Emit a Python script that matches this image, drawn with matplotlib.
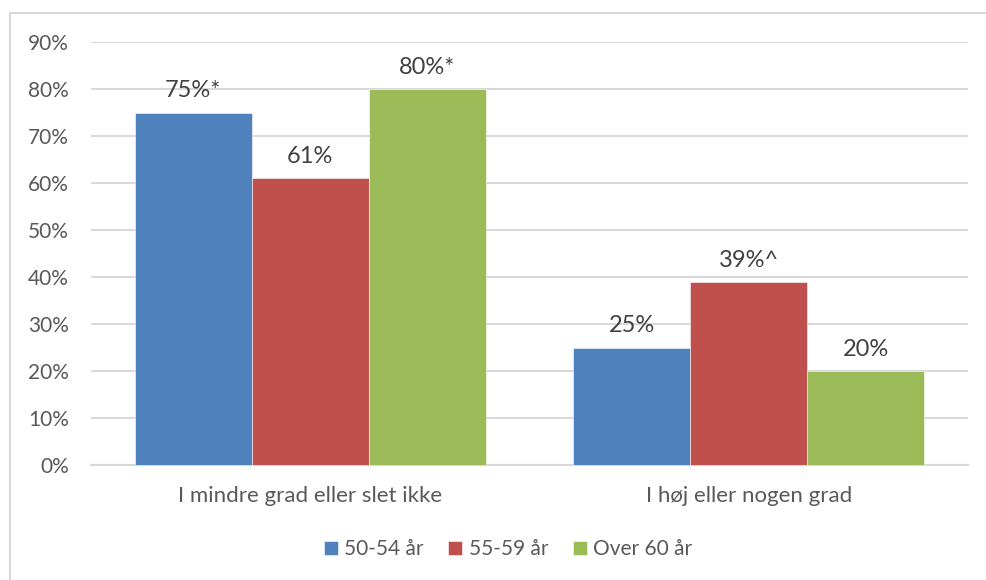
import matplotlib
matplotlib.use("Agg")
import matplotlib.pyplot as plt
from matplotlib.patches import Rectangle
import numpy as np

categories = ["I mindre grad eller slet ikke", "I høj eller nogen grad"]
series_names = ["50-54 år", "55-59 år", "Over 60 år"]
values = {
    "50-54 år": [75, 25],
    "55-59 år": [61, 39],
    "Over 60 år": [80, 20],
}
labels = {
    "50-54 år": ["75%*", "25%"],
    "55-59 år": ["61%", "39%^"],
    "Over 60 år": ["80%*", "20%"],
}
colors = ["#4F81BD", "#C0504D", "#9BBB59"]
yticks = [0, 10, 20, 30, 40, 50, 60, 70, 80, 90]

plt.rcParams['font.family'] = ['Lato', 'DejaVu Sans']

fig = plt.figure(figsize=(9.86, 5.8), dpi=100)
# outer chart border (only left and top visible)
fig.patches.append(Rectangle((10/986, -0.1), 1.2, 1 - 13/580 + 0.1,
                             transform=fig.transFigure, fill=False,
                             edgecolor="#d9d9d9", linewidth=1.5))

ax = fig.add_axes([91/986, 1 - 465/580, (968 - 91)/986, (465 - 42)/580])
x = np.arange(len(categories))
w = 0.8 / 3
for j, name in enumerate(series_names):
    pos = x + (j - 1) * w
    bars = ax.bar(pos, values[name], width=w, color=colors[j], label=name,
                  edgecolor="white", linewidth=0.4, zorder=3)
    for b, lab in zip(bars, labels[name]):
        ax.annotate(lab, (b.get_x() + b.get_width() / 2, b.get_height()),
                    xytext=(0, 8), textcoords="offset points",
                    ha="center", va="bottom", fontsize=17, color="#404040")

ax.set_xlim(-0.5, 1.5)
ax.set_ylim(0, 90)
ax.set_yticks(yticks)
ax.set_yticklabels([f"{t}%" for t in yticks])
ax.set_xticks(x)
ax.set_xticklabels(categories)
ax.tick_params(axis="y", length=0, pad=16, labelsize=15, labelcolor="#595959")
ax.tick_params(axis="x", length=0, pad=15, labelsize=16, labelcolor="#595959")
ax.yaxis.grid(True, color="#d9d9d9", linewidth=1.5, zorder=0)
ax.set_axisbelow(True)
for s in ["top", "right", "left"]:
    ax.spines[s].set_visible(False)
ax.spines["bottom"].set_color("#d9d9d9")
ax.spines["bottom"].set_linewidth(1.5)

fig.legend(loc="center", bbox_to_anchor=(508/986, 1 - 549/580), ncol=3,
           frameon=False, fontsize=15, handlelength=0.67, handleheight=0.67,
           handletextpad=0.3, columnspacing=1.2, labelcolor="#595959")

fig.savefig("out.png", dpi=100)
